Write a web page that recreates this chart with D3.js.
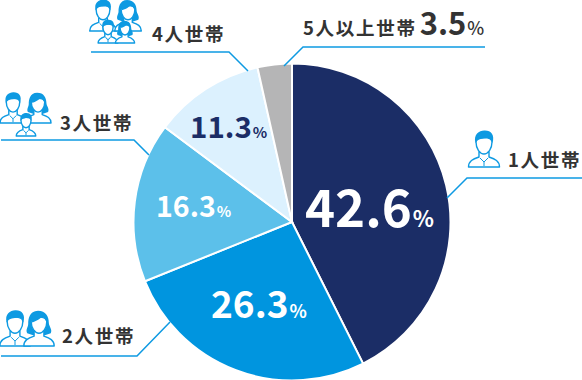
<!DOCTYPE html>
<html>
<head>
<meta charset="utf-8">
<script src="https://cdn.jsdelivr.net/npm/d3@7"></script>
<style>
  html, body { margin: 0; padding: 0; background: #fff; }
  svg { display: block; }
  text { font-family: "Noto Sans CJK JP", "Noto Sans", sans-serif; font-weight: 700; }
</style>
</head>
<body>
<svg id="chart" width="582" height="380"></svg>
<script>
const categories = ["1人世帯", "2人世帯", "3人世帯", "4人世帯", "5人以上世帯"];
const shares = [42.6, 26.3, 16.3, 11.3, 3.5];
const sliceColors = ["#1b2d66", "#0095df", "#5cc0ea", "#dcf1fe", "#b5b5b6"];

const cx = 292;
const cy = 222;
const radius = 158.5;
const blue = "#0e9ae2";

const svg = d3.select("#chart");

const pie = d3.pie().value(d => d).sort(null);
const arc = d3.arc().innerRadius(0).outerRadius(radius);

svg.append("g")
  .attr("transform", `translate(${cx},${cy})`)
  .selectAll("path")
  .data(pie(shares))
  .join("path")
  .attr("d", arc)
  .attr("fill", (d, i) => sliceColors[i])
  .attr("stroke", "#fff")
  .attr("stroke-width", 2);

// value labels on the slices
const valueLabels = [
  { x: 305, y: 227, size: 51, pctSize: 22, fill: "#fff" },
  { x: 211, y: 318, size: 37, pctSize: 18, fill: "#fff" },
  { x: 156, y: 217, size: 28.5, pctSize: 15, fill: "#fff" },
  { x: 190, y: 138, size: 29.5, pctSize: 15, fill: "#1b2d66" }
];
valueLabels.forEach((l, i) => {
  const t = svg.append("text")
    .attr("x", l.x).attr("y", l.y)
    .attr("fill", l.fill)
    .attr("font-size", l.size);
  t.append("tspan").text(shares[i].toFixed(1));
  t.append("tspan").attr("font-size", l.pctSize).attr("dx", 1).text("%");
});

// leader lines
const leaders = [
  [[582, 178], [467, 178], [447, 198]],
  [[1, 356], [137, 356], [170, 322]],
  [[1, 140], [134, 140], [149, 155]],
  [[91, 52], [229, 52], [248, 71]],
  [[485, 47], [303, 47], [284, 66]]
];
svg.append("g")
  .selectAll("path")
  .data(leaders)
  .join("path")
  .attr("d", d3.line())
  .attr("fill", "none")
  .attr("stroke", blue)
  .attr("stroke-width", 1.5);

// category labels
const labelPos = [[508, 167], [62, 343], [60, 130], [152, 41], [303, 35]];
categories.forEach((c, i) => {
  const t = svg.append("text")
    .attr("x", labelPos[i][0]).attr("y", labelPos[i][1])
    .attr("fill", "#333")
    .attr("font-size", 18.5)
    .attr("letter-spacing", 1.7)
    .text(c);
  if (i === 4) {
    t.append("tspan").attr("font-size", 31).attr("dx", 3).attr("letter-spacing", 0).text(shares[4].toFixed(1));
    t.append("tspan").attr("font-size", 18).attr("dx", 1).attr("font-weight", 500).text("%");
  }
});

// people icons, origin at the bottom centre of each figure
function person(x, y, s, female) {
  const g = svg.append("g").attr("transform", `translate(${x},${y}) scale(${s})`);
  if (female) {
    g.append("path")
      .attr("d", "M-1,-36 C-10,-36 -11,-27 -11,-23 C-11,-19 -14,-17 -12,-13 L-6,-11 L6,-11 L12,-13 C14,-17 10,-20 10,-24 C10,-30 7,-36 -1,-36Z")
      .attr("fill", blue);
  }
  g.append("path")
    .attr("d", "M-15.5,0 C-15.5,-6 -11,-8 -5,-10 L-5,-15 L5,-15 L5,-10 C11,-8 15.5,-6 15.5,0Z")
    .attr("fill", "#fff").attr("stroke", blue).attr("stroke-width", 1.4 / s).attr("stroke-linejoin", "round");
  g.append("path")
    .attr("d", "M-8,-25 C-8,-31 8,-31 8,-25 C8,-18 4,-13 0,-13 C-4,-13 -8,-18 -8,-25Z")
    .attr("fill", "#fff").attr("stroke", blue).attr("stroke-width", 1.4 / s);
  if (female) {
    g.append("path").attr("d", "M-7,-24 C-3,-25 2,-28 4,-31 C5,-28 7,-26 8,-24 C9,-31 5,-35 -1,-35 C-6,-35 -8,-29 -7,-24Z").attr("fill", blue);
  } else {
    g.append("path").attr("d", "M-8.5,-24 C-11,-33 -4,-37 1,-36.5 C7,-36.5 11,-32 8.5,-24 C8,-27 6,-29 3,-29 C-1,-28 -6,-29 -8.5,-24Z").attr("fill", blue);
    g.append("path").attr("d", "M-4,-9 L0,-5 L4,-9 M0,-5 L0,-1").attr("fill", "none").attr("stroke", blue).attr("stroke-width", 1 / s);
  }
}
const icons = [
  [484, 167, 1, false],
  [15, 346, 0.98, false], [39, 346, 0.98, true],
  [13, 123, 0.84, false], [38, 123, 0.84, true], [26, 136, 0.63, false],
  [103, 31, 0.86, false], [128, 31, 0.86, true], [108, 43, 0.64, false], [125, 43, 0.62, true]
];
icons.forEach(d => person(...d));
</script>
</body>
</html>
